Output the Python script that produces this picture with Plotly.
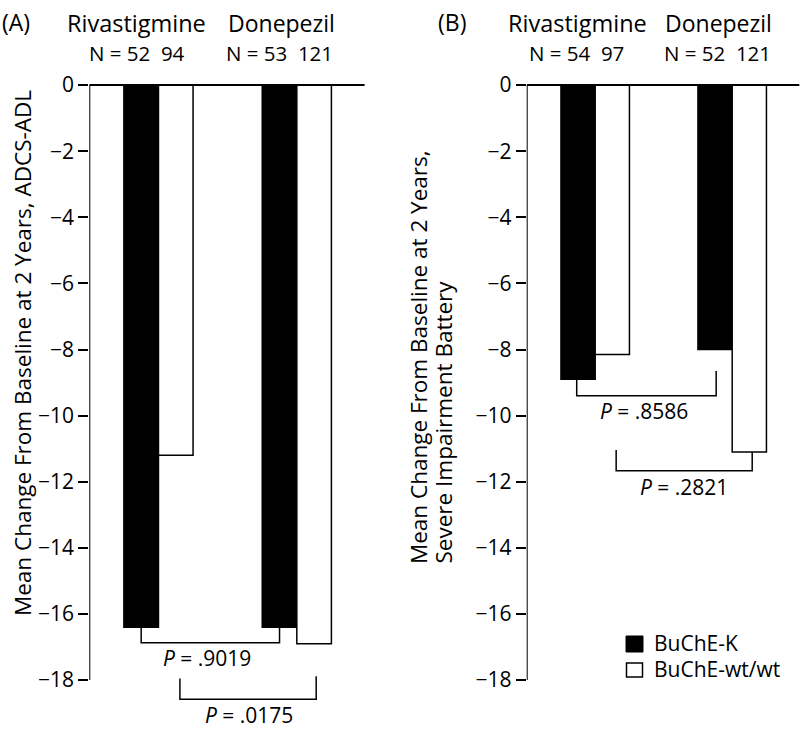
import plotly.graph_objects as go

# ---------------- data ----------------
drugs = ["Rivastigmine", "Donepezil"]
groups = ["BuChE-K", "BuChE-wt/wt"]
adl_k = [-16.4, -16.4]
adl_wt = [-11.2, -16.9]
sib_k = [-8.9, -8.0]
sib_wt = [-8.15, -11.1]
n_adl = ["N = 52  94", "N = 53  121"]
n_sib = ["N = 54  97", "N = 52  121"]
p_adl = [".9019", ".0175"]
p_sib = [".8586", ".2821"]
tick_vals = [0, -2, -4, -6, -8, -10, -12, -14, -16, -18]

FONT = "Open Sans"
W, H = 806, 731

def px_x(p):
    return p / W

def px_y(p):
    return 1 - p / H

fig = go.Figure()
for xa, ya, k, wt in [("x", "y", adl_k, adl_wt), ("x2", "y2", sib_k, sib_wt)]:
    fig.add_trace(go.Bar(x=drugs, y=k, name=groups[0], xaxis=xa, yaxis=ya,
                         marker=dict(color="black", line=dict(color="black", width=1.5)),
                         showlegend=False, hoverinfo="skip"))
    fig.add_trace(go.Bar(x=drugs, y=wt, name=groups[1], xaxis=xa, yaxis=ya,
                         marker=dict(color="white", line=dict(color="black", width=1.5)),
                         showlegend=False, hoverinfo="skip"))

yrange = [-19.5, 0.6]
ydom = [1 - 729.7 / H, 1 - 65.2 / H]
yax = dict(range=yrange, domain=ydom, tickvals=tick_vals, ticks="outside", ticklen=10,
           tickwidth=1.5, tickcolor="black", showgrid=False, zeroline=False, showline=False,
           tickfont=dict(family=FONT, size=21, color="black"))
xax = dict(range=[-0.5, 1.5], showticklabels=False, showgrid=False, zeroline=False,
           showline=False, ticks="")

shapes = []
annotations = []

def panel(xr, yr, brackets, pvals, pos):
    shapes.append(dict(type="line", xref=xr, yref=yr, x0=-0.5, x1=-0.5, y0=0, y1=-18,
                       line=dict(color="black", width=2)))
    shapes.append(dict(type="line", xref=xr, yref=yr, x0=-0.5, x1=1.49, y0=0, y1=0,
                       line=dict(color="black", width=2)))
    for (xa_, ya_, yb_, xc_, yd_) in brackets:
        path = f"M {xa_},{ya_} L {xa_},{yb_} L {xc_},{yb_} L {xc_},{yd_}"
        shapes.append(dict(type="path", xref=xr, yref=yr, path=path,
                           line=dict(color="black", width=1.5)))
    for p, (xx, yy) in zip(pvals, pos):
        annotations.append(dict(xref=xr, yref=yr, x=xx, y=yy, text=f"<i>P</i> = {p}",
                                showarrow=False, xanchor="center", yanchor="middle",
                                font=dict(family=FONT, size=21, color="black")))

panel("x", "y",
      [(-0.125, -16.4, -16.87, 0.875, -16.4), (0.155, -17.95, -18.58, 1.14, -17.88)],
      p_adl, [(0.354, -17.33), (0.653, -19.06)])
panel("x2", "y2",
      [(-0.135, -8.9, -9.40, 0.883, -8.65), (0.153, -11.04, -11.67, 1.146, -11.1)],
      p_sib, [(0.355, -9.85), (0.647, -12.16)])

def header(text, xc, yc, size, anchor="center"):
    annotations.append(dict(xref="paper", yref="paper", x=px_x(xc), y=px_y(yc), text=text,
                            showarrow=False, xanchor=anchor, yanchor="middle",
                            font=dict(family=FONT, size=size, color="black")))

header("(A)", 0, 22, 23, "left")
header("(B)", 436, 22, 23, "left")
header(drugs[0], 136.7, 23, 23.5)
header(drugs[1], 281.7, 23, 23)
header(drugs[0], 577, 23, 23.5)
header(drugs[1], 718, 23, 23)
header(n_adl[0].replace("  ", "&nbsp;&nbsp;"), 136.7, 53, 20.5)
header(n_adl[1].replace("  ", "&nbsp;&nbsp;"), 279, 53, 20.5)
header(n_sib[0].replace("  ", "&nbsp;&nbsp;"), 576, 53, 20.5)
header(n_sib[1].replace("  ", "&nbsp;&nbsp;"), 717, 53, 20.5)

annotations.append(dict(xref="paper", yref="paper", x=px_x(22), y=px_y(353),
                        text="Mean Change From Baseline at 2 Years, ADCS-ADL",
                        textangle=-90, showarrow=False, xanchor="center", yanchor="middle",
                        font=dict(family=FONT, size=22.5, color="black")))
annotations.append(dict(xref="paper", yref="paper", x=px_x(418), y=px_y(566),
                        text="Mean Change From Baseline at 2 Years,",
                        textangle=-90, showarrow=False, xanchor="center", yanchor="bottom",
                        font=dict(family=FONT, size=22.5, color="black")))
annotations.append(dict(xref="paper", yref="paper", x=px_x(443), y=px_y(566),
                        text="Severe Impairment Battery",
                        textangle=-90, showarrow=False, xanchor="center", yanchor="bottom",
                        font=dict(family=FONT, size=22.5, color="black")))

shapes.append(dict(type="rect", xref="paper", yref="paper", x0=px_x(626), x1=px_x(643),
                   y0=px_y(652), y1=px_y(636), fillcolor="black", line=dict(color="black", width=1)))
shapes.append(dict(type="rect", xref="paper", yref="paper", x0=px_x(626.5), x1=px_x(642.5),
                   y0=px_y(677), y1=px_y(663), fillcolor="white", line=dict(color="black", width=1.5)))
header(groups[0], 652, 643, 21, "left")
header(groups[1], 652, 669, 21, "left")

fig.update_layout(
    width=W, height=H, margin=dict(l=0, r=0, t=0, b=0),
    paper_bgcolor="white", plot_bgcolor="white",
    barmode="group", bargap=0.5, bargroupgap=0,
    xaxis=dict(xax, domain=[89.3 / W, 366 / W], anchor="y"),
    yaxis=dict(yax, anchor="x"),
    xaxis2=dict(xax, domain=[526.7 / W, 800.7 / W], anchor="y2"),
    yaxis2=dict(yax, anchor="x2"),
    shapes=shapes, annotations=annotations, showlegend=False, hovermode=False,
)

fig.write_html("out.html", config={"displayModeBar": False},
               post_script="document.body.style.margin='0px';document.body.style.overflow='hidden';")
